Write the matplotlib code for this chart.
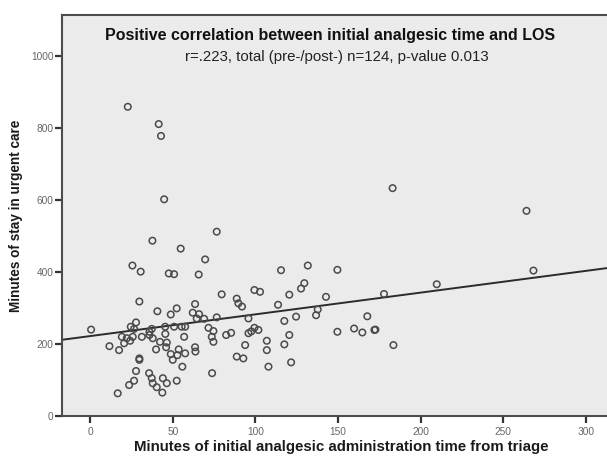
import matplotlib
matplotlib.use("Agg")
import matplotlib.pyplot as plt

plt.rcParams['font.family'] = ['Liberation Sans', 'DejaVu Sans']

# Scatter data: minutes to initial analgesic (x) vs minutes of stay (y)
analgesic_min = [
    37.7, 76.6, 54.8, 69.6, 25.6, 30.6, 47.6, 50.8, 65.7, 29.8, 79.6, 88.7, 89.7, 91.9, 63.5,
    40.7, 52.4, 48.8, 62.1, 65.9, 64.5, 69.0, 76.6, 27.8, 24.6, 26.6, 0.6, 37.3, 35.9, 45.4,
    50.8, 55.4, 57.5, 71.6, 74.6, 73.6, 74.6, 82.3, 85.3, 95.8, 93.8, 88.7, 92.7, 73.8, 19.2,
    22.2, 25.8, 24.2, 20.6, 31.3, 35.9, 37.9, 42.3, 45.5, 46.4, 56.9, 11.7, 17.5, 39.9, 46.0,
    53.6, 63.5, 63.7, 57.5, 52.8, 48.8, 50.0, 29.8, 29.8, 55.8, 27.8, 35.7, 26.6, 23.6, 37.3,
    37.9, 44.0, 46.4, 40.3, 43.7, 52.4, 16.7,
    22.8, 41.5, 42.9, 44.8,
    268.2, 209.7, 177.8, 149.6, 131.7, 115.5, 129.6, 127.6, 120.5, 142.7, 99.4, 102.8, 113.7,
    137.7, 136.7, 124.6, 117.5, 95.8, 167.7, 99.4, 101.8, 97.5, 120.5, 106.9, 117.5, 106.9,
    121.6, 107.9, 149.6, 159.7, 164.7, 172.0, 172.6, 183.5,
    264.0, 183.0,
]
stay_min = [
    487, 512, 465, 435, 418, 401, 396, 394, 393, 318, 338, 326, 313, 304, 311,
    291, 299, 282, 287, 283, 271, 270, 274, 260, 248, 242, 240, 242, 234, 248,
    248, 248, 248, 245, 236, 220, 206, 225, 231, 230, 197, 165, 160, 119, 220,
    216, 220, 209, 202, 220, 225, 216, 206, 228, 204, 220, 194, 183, 185, 191,
    185, 191, 179, 174, 169, 172, 156, 160, 156, 137, 125, 119, 98, 86, 105,
    91, 105, 91, 80, 65, 98, 63,
    859, 811, 778, 602,
    404, 366, 339, 406, 418, 405, 369, 354, 337, 331, 350, 345, 309,
    296, 280, 276, 264, 271, 277, 245, 239, 235, 225, 209, 199, 183,
    149, 137, 234, 243, 232, 239, 240, 197,
    570, 633,
]

# Linear fit line
fit_intercept = 222.0
fit_slope = 0.604

x_ticks = [0, 50, 100, 150, 200, 250, 300]
y_ticks = [0, 200, 400, 600, 800, 1000]

title = "Positive correlation between initial analgesic time and LOS"
subtitle = "r=.223, total (pre-/post-) n=124, p-value 0.013"
x_label = "Minutes of initial analgesic administration time from triage"
y_label = "Minutes of stay in urgent care"

fig = plt.figure(figsize=(6.07, 4.58), dpi=100)
ax = fig.add_axes([62/607, 42/458, 545/607, 401/458])
ax.set_facecolor('#ebebeb')

ax.scatter(analgesic_min, stay_min, s=22, facecolors='none',
           edgecolors='#4a4a4a', linewidths=1.1, zorder=3)
ax.axline((0, fit_intercept), slope=fit_slope, color='#2b2b2b', lw=1.4, zorder=2)

ax.set_xlim(-17, 312.7)
ax.set_ylim(0, 1114)
ax.set_xticks(x_ticks)
ax.set_yticks(y_ticks)
ax.tick_params(axis='both', labelsize=7.3, labelcolor='#666666', color='#333333',
               direction='out')
ax.tick_params(axis='x', length=5, width=1.6, pad=3)
ax.tick_params(axis='y', length=5, width=1.6, pad=1)

for side in ['left', 'bottom', 'top']:
    ax.spines[side].set_color('#4d4d4d')
    ax.spines[side].set_linewidth(1.5)
ax.spines['right'].set_visible(False)

ax.set_xlabel(x_label, fontsize=10.8, fontweight='bold', color='#1a1a1a')
ax.xaxis.set_label_coords(0.513, -0.060)
ax.set_ylabel(y_label, fontsize=9.8, fontweight='bold', color='#1a1a1a', labelpad=6)

ax.text(0.491, 0.950, title, transform=ax.transAxes, ha='center', va='center',
        fontsize=11.5, fontweight='bold', color='#111111')
ax.text(0.505, 0.896, subtitle, transform=ax.transAxes, ha='center', va='center',
        fontsize=10.8, color='#222222')

fig.savefig('out.png', dpi=100)
